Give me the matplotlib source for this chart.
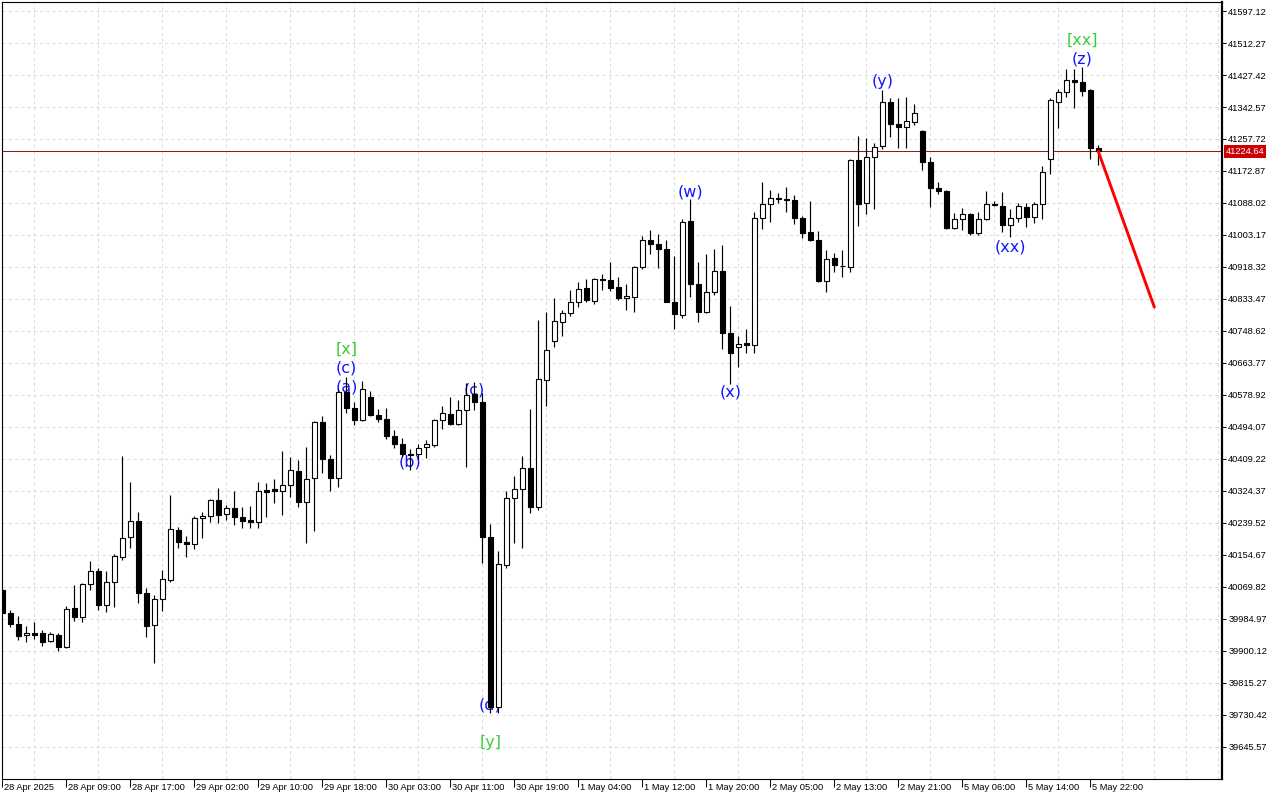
import matplotlib
matplotlib.use('Agg')
import matplotlib.pyplot as plt
import matplotlib.transforms as mtransforms
import numpy as np

# ---------------- data (H1 bars, 28 Apr 01:00 -> 5 May 23:00) ----------------
opens = [40062, 40001, 39972, 39943, 39948, 39948, 39927, 39943, 39911, 40014,
         39990, 40078, 40112, 40022, 40083, 40149, 40202, 40244, 40054, 39968,
         40039, 40089, 40222, 40189, 40183, 40253, 40258, 40300, 40264, 40280,
         40255, 40247, 40243, 40326, 40329, 40324, 40340, 40378, 40295, 40358,
         40508, 40408, 40359, 40587, 40545, 40513, 40574, 40527, 40516, 40470,
         40449, 40423, 40422, 40440, 40447, 40513, 40529, 40502, 40539, 40582,
         40560, 40202, 39752, 40128, 40306, 40330, 40385, 40282, 40619, 40722,
         40773, 40796, 40826, 40862, 40829, 40886, 40885, 40864, 40836, 40840,
         40918, 40990, 40979, 40966, 40826, 40790, 41039, 40874, 40799, 40852,
         40908, 40744, 40706, 40716, 40712, 41047, 41085, 41101, 41098, 41097,
         41048, 41010, 40991, 40881, 40941, 40922, 40919, 41202, 41087, 41210,
         41238, 41356, 41298, 41290, 41304, 41279, 41197, 41128, 41120, 41022,
         41046, 41059, 41008, 41046, 41085, 41081, 41030, 41048, 41078, 41051,
         41085, 41205, 41356, 41382, 41414, 41408, 41388, 41234]
highs = [40067, 40009, 39993, 39966, 39977, 39956, 39950, 39948, 40019, 40075,
         40080, 40139, 40120, 40112, 40157, 40417, 40348, 40269, 40067, 40049,
         40115, 40314, 40229, 40205, 40258, 40269, 40303, 40332, 40287, 40324,
         40282, 40285, 40348, 40346, 40356, 40430, 40415, 40407, 40441, 40510,
         40523, 40420, 40595, 40627, 40560, 40616, 40590, 40542, 40544, 40486,
         40465, 40436, 40449, 40460, 40515, 40550, 40574, 40566, 40611, 40613,
         40584, 40237, 40165, 40324, 40364, 40417, 40542, 40778, 40799, 40836,
         40804, 40857, 40879, 40886, 40889, 40900, 40932, 40892, 40873, 40921,
         41001, 41016, 41006, 40990, 40947, 41046, 41099, 40932, 40953, 40966,
         40977, 40815, 40735, 40754, 41064, 41144, 41122, 41115, 41130, 41109,
         41054, 41093, 41014, 40963, 40955, 40963, 41205, 41266, 41260, 41247,
         41388, 41366, 41366, 41369, 41351, 41282, 41210, 41144, 41122, 41062,
         41075, 41062, 41064, 41120, 41093, 41117, 41072, 41088, 41088, 41091,
         41186, 41366, 41390, 41443, 41443, 41449, 41390, 41242]
lows = [39998, 39964, 39929, 39924, 39932, 39913, 39924, 39900, 39908, 39980,
        39977, 40062, 40009, 40004, 40017, 40141, 40173, 40027, 39937, 39868,
        40006, 40083, 40173, 40149, 40171, 40200, 40242, 40240, 40247, 40234,
        40226, 40226, 40226, 40255, 40293, 40261, 40308, 40282, 40186, 40218,
        40372, 40324, 40335, 40531, 40499, 40510, 40523, 40507, 40462, 40438,
        40415, 40380, 40409, 40412, 40441, 40489, 40500, 40499, 40388, 40539,
        40133, 39736, 39735, 40120, 40186, 40173, 40266, 40274, 40550, 40706,
        40735, 40788, 40812, 40826, 40820, 40857, 40855, 40831, 40804, 40799,
        40914, 40953, 40916, 40825, 40754, 40783, 40839, 40772, 40797, 40844,
        40701, 40608, 40653, 40690, 40690, 41019, 41038, 41088, 41064, 41032,
        40995, 40987, 40879, 40852, 40905, 40892, 40905, 41027, 41059, 41072,
        41231, 41263, 41234, 41234, 41295, 41176, 41077, 41112, 41019, 41019,
        41016, 41003, 41003, 41044, 41080, 41011, 40998, 41038, 41024, 41035,
        41046, 41165, 41287, 41369, 41340, 41372, 41205, 41189]
closes = [40001, 39972, 39940, 39948, 39943, 39924, 39945, 39911, 40011, 39990,
          40078, 40112, 40022, 40083, 40152, 40200, 40245, 40054, 39966, 40038,
          40091, 40224, 40189, 40184, 40253, 40258, 40300, 40261, 40279, 40255,
          40245, 40242, 40324, 40321, 40324, 40340, 40380, 40295, 40356, 40507,
          40409, 40359, 40587, 40544, 40513, 40595, 40526, 40515, 40470, 40449,
          40422, 40419, 40438, 40449, 40513, 40531, 40502, 40539, 40579, 40560,
          40202, 39752, 40131, 40306, 40330, 40385, 40282, 40621, 40698, 40775,
          40796, 40826, 40860, 40831, 40886, 40885, 40862, 40836, 40841, 40918,
          40990, 40979, 40966, 40826, 40794, 41038, 40873, 40799, 40852, 40908,
          40743, 40690, 40714, 40711, 41048, 41085, 41101, 41098, 41097, 41048,
          41008, 40990, 40881, 40940, 40924, 40920, 41202, 41085, 41210, 41237,
          41356, 41297, 41290, 41305, 41327, 41197, 41128, 41120, 41022, 41046,
          41059, 41008, 41046, 41085, 41083, 41030, 41048, 41080, 41051, 41085,
          41170, 41361, 41382, 41414, 41409, 41385, 41234, 41224.64]

current_price = 41224.64

time_tick_bars = [0, 8, 16, 24, 32, 40, 48, 56, 64, 72, 80, 88, 96, 104, 112, 120, 128, 136]
time_tick_labels = ["28 Apr 2025", "28 Apr 09:00", "28 Apr 17:00", "29 Apr 02:00",
                    "29 Apr 10:00", "29 Apr 18:00", "30 Apr 03:00", "30 Apr 11:00",
                    "30 Apr 19:00", "1 May 04:00", "1 May 12:00", "1 May 20:00",
                    "2 May 05:00", "2 May 13:00", "2 May 21:00", "5 May 06:00",
                    "5 May 14:00", "5 May 22:00"]

price_ticks = [41597.12, 41512.27, 41427.42, 41342.57, 41257.72, 41172.87, 41088.02,
               41003.17, 40918.32, 40833.47, 40748.62, 40663.77, 40578.92, 40494.07,
               40409.22, 40324.37, 40239.52, 40154.67, 40069.82, 39984.97, 39900.12,
               39815.27, 39730.42, 39645.57]

wave_texts = ['[x]', '(c)', '(a)', '(b)', '(c)', '(d)', '[y]', '(w)', '(x)', '(y)',
              '(xx)', '[xx]', '(z)']
wave_bars = [43, 43, 43, 51, 59, 61, 61, 86, 91, 110, 126, 135, 135]
wave_prices = [40701, 40650, 40601, 40402, 40592, 39758, 39657, 41117, 40586, 41410,
               40972, 41520, 41470]
wave_colors = ['#3ccc3c', '#1414ff', '#1414ff', '#1414ff', '#1414ff', '#1414ff',
               '#3ccc3c', '#1414ff', '#1414ff', '#1414ff', '#1414ff', '#3ccc3c', '#1414ff']

forecast_bars = [137, 144]
forecast_prices = [41224.64, 40812.0]

# ---------------- figure ----------------
plt.rcParams['font.family'] = ['Liberation Sans', 'DejaVu Sans']

W, H = 1280, 800
fig = plt.figure(figsize=(W / 100, H / 100), dpi=100)
ax = fig.add_axes([2 / W, 21 / H, 1220 / W, 777 / H])
fig.patch.set_facecolor('white')
ax.set_facecolor('white')

ax.set_xlim(-0.04, 152.46)
ax.set_ylim(39560.69, 41620.99)

o = np.array(opens, dtype=float)
h = np.array(highs, dtype=float)
l = np.array(lows, dtype=float)
c = np.array(closes, dtype=float)
x = np.arange(len(o))
up = c >= o

# grid
ax.set_axisbelow(True)
ax.set_xticks(np.arange(0, 153, 4), minor=True)
ax.grid(which='minor', axis='x', color='#dcdcdc', linestyle=(0, (3, 3)), linewidth=0.75)
ax.grid(which='major', axis='y', color='#dcdcdc', linestyle=(0, (3, 3)), linewidth=0.75)

# wave labels (drawn under candles)
for t, b, p, col in zip(wave_texts, wave_bars, wave_prices, wave_colors):
    ax.text(b, p, t, color=col, ha='center', va='center', fontsize=11.5,
            family='DejaVu Sans', zorder=1.5)

# current price line
ax.axhline(current_price, color='#8f1d1d', linewidth=0.75, zorder=1.8)

# candles
ax.vlines(x, l, h, color='black', linewidth=0.85, zorder=2)
ax.bar(x[up], (c - o)[up], bottom=o[up], width=0.55, facecolor='white',
       edgecolor='black', linewidth=0.8, zorder=3)
ax.bar(x[~up], (o - c)[~up], bottom=c[~up], width=0.55, facecolor='black',
       edgecolor='black', linewidth=0.8, zorder=3)

# forecast line
ax.plot(forecast_bars, forecast_prices, color='#ff0000', linewidth=2.1,
        solid_capstyle='round', zorder=4)

# axes / ticks
for s in ['top', 'left', 'bottom']:
    ax.spines[s].set_linewidth(0.8)
    ax.spines[s].set_color('black')
ax.spines['right'].set_linewidth(1.6)

ax.yaxis.tick_right()
ax.set_yticks(price_ticks)
ax.set_yticklabels([f'{v:.2f}' for v in price_ticks])
ax.tick_params(axis='y', which='major', direction='out', length=3, width=0.7,
               pad=1.5, labelsize=6.7, colors='black')

ax.set_xticks(time_tick_bars)
ax.set_xticklabels(time_tick_labels)
ax.tick_params(axis='x', which='major', direction='out', length=5.5, width=0.7,
               pad=-2.5, labelsize=6.7, colors='black')
ax.tick_params(axis='x', which='minor', length=0)
offset = mtransforms.ScaledTranslation(2 / 100, 0, fig.dpi_scale_trans)
for lbl in ax.get_xticklabels():
    lbl.set_ha('left')
    lbl.set_transform(lbl.get_transform() + offset)

# current price tag on the axis
tag_tr = mtransforms.blended_transform_factory(ax.transAxes, ax.transData)
ax.text(1.0 + 4 / 1220, current_price, f'{current_price:.2f}', transform=tag_tr,
        ha='left', va='center', fontsize=6.7, color='white', zorder=6,
        bbox=dict(boxstyle='square,pad=0.2', facecolor='#cc0000', edgecolor='none'),
        clip_on=False)

fig.savefig('out.png', dpi=100, facecolor='white')
